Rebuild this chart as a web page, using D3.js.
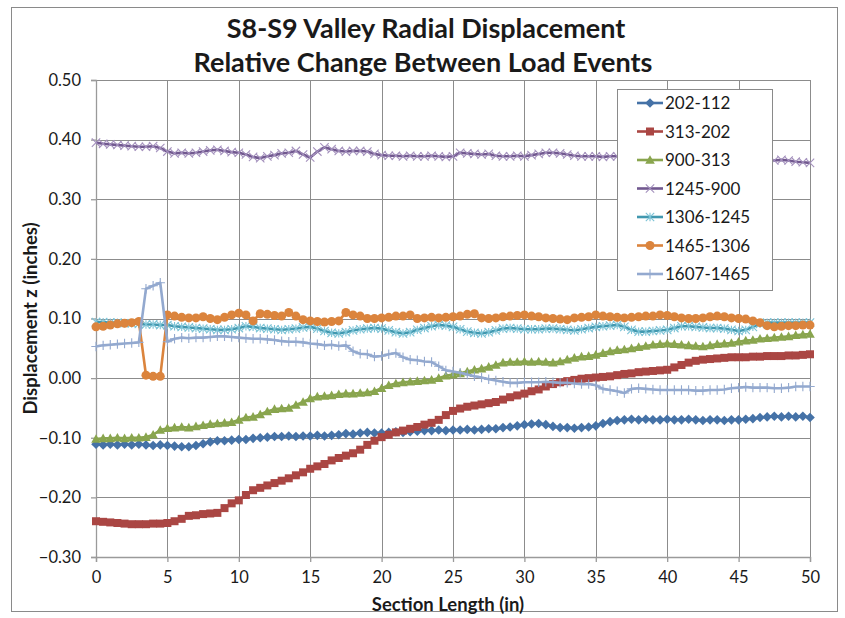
<!DOCTYPE html>
<html>
<head>
<meta charset="utf-8">
<script src="https://cdn.jsdelivr.net/npm/d3@7"></script>
<style>
    body { margin: 0; background: #fff; }
    text { font-family: Lato, "Open Sans", sans-serif; fill: #1a1a1a; }
</style>
</head>
<body>
<div class="chart"></div>
<script>
// readings every 0.5 in along the section, 0 .. 50
const seriesNames = ['202-112', '313-202', '900-313', '1245-900', '1306-1245', '1465-1306', '1607-1465'];

const s202_112 = [
    -0.111, -0.112, -0.111, -0.112, -0.111, -0.112, -0.111, -0.112, -0.113, -0.112, -0.113,
    -0.114, -0.115, -0.115, -0.113, -0.110, -0.107, -0.105, -0.105, -0.104, -0.103,
    -0.103, -0.101, -0.100, -0.099, -0.098, -0.098, -0.097, -0.098, -0.097, -0.097,
    -0.096, -0.097, -0.096, -0.095, -0.093, -0.094, -0.092, -0.091, -0.092, -0.092,
    -0.091, -0.090, -0.091, -0.090, -0.089, -0.088, -0.088, -0.087, -0.088, -0.087,
    -0.087, -0.086, -0.087, -0.086, -0.085, -0.085, -0.083, -0.082, -0.080, -0.078,
    -0.077, -0.076, -0.078, -0.081, -0.083, -0.083, -0.084, -0.083, -0.082, -0.080,
    -0.076, -0.073, -0.071, -0.070, -0.069, -0.070, -0.069, -0.070, -0.070, -0.069,
    -0.070, -0.070, -0.069, -0.070, -0.071, -0.070, -0.070, -0.071, -0.070, -0.070,
    -0.069, -0.068, -0.066, -0.065, -0.064, -0.065, -0.064, -0.065, -0.064, -0.066
];
const s313_202 = [
    -0.240, -0.241, -0.242, -0.243, -0.244, -0.245, -0.245, -0.245, -0.244, -0.244, -0.243,
    -0.240, -0.236, -0.231, -0.230, -0.228, -0.227, -0.226, -0.218, -0.210, -0.205,
    -0.196, -0.188, -0.184, -0.180, -0.176, -0.172, -0.168, -0.163, -0.158, -0.152,
    -0.148, -0.144, -0.138, -0.134, -0.130, -0.126, -0.120, -0.112, -0.105, -0.099,
    -0.095, -0.091, -0.088, -0.085, -0.082, -0.078, -0.075, -0.070, -0.062, -0.055,
    -0.051, -0.048, -0.046, -0.044, -0.042, -0.040, -0.036, -0.032, -0.029, -0.026,
    -0.022, -0.019, -0.014, -0.010, -0.007, -0.005, -0.003, -0.001, 0.000, 0.001,
    0.002, 0.003, 0.005, 0.007, 0.008, 0.010, 0.011, 0.012, 0.013, 0.014,
    0.018, 0.022, 0.026, 0.029, 0.031, 0.032, 0.033, 0.034, 0.035, 0.035,
    0.035, 0.036, 0.036, 0.037, 0.037, 0.037, 0.038, 0.038, 0.039, 0.040
];
const s900_313 = [
    -0.102, -0.101, -0.101, -0.100, -0.101, -0.100, -0.100, -0.099, -0.095, -0.087, -0.084,
    -0.083, -0.082, -0.083, -0.081, -0.079, -0.077, -0.076, -0.075, -0.074, -0.070,
    -0.066, -0.065, -0.061, -0.056, -0.052, -0.051, -0.050, -0.045, -0.040, -0.034,
    -0.031, -0.030, -0.029, -0.027, -0.026, -0.026, -0.025, -0.024, -0.022, -0.017,
    -0.012, -0.009, -0.007, -0.006, -0.005, -0.004, -0.003, 0.000, 0.004, 0.006,
    0.008, 0.011, 0.014, 0.016, 0.019, 0.022, 0.026, 0.027, 0.027, 0.028,
    0.027, 0.028, 0.027, 0.026, 0.028, 0.031, 0.034, 0.036, 0.037, 0.039,
    0.042, 0.045, 0.047, 0.048, 0.050, 0.052, 0.054, 0.056, 0.057, 0.058,
    0.057, 0.056, 0.055, 0.054, 0.053, 0.055, 0.057, 0.058, 0.059, 0.061,
    0.063, 0.064, 0.066, 0.067, 0.068, 0.069, 0.070, 0.072, 0.073, 0.074
];
const s1245_900 = [
    0.395, 0.393, 0.392, 0.391, 0.390, 0.389, 0.388, 0.388, 0.389, 0.386, 0.380,
    0.377, 0.378, 0.377, 0.378, 0.380, 0.382, 0.383, 0.381, 0.379, 0.378,
    0.375, 0.371, 0.369, 0.372, 0.374, 0.377, 0.378, 0.381, 0.375, 0.370,
    0.380, 0.387, 0.384, 0.381, 0.380, 0.381, 0.381, 0.380, 0.376, 0.374,
    0.373, 0.373, 0.372, 0.373, 0.372, 0.372, 0.373, 0.372, 0.371, 0.372,
    0.378, 0.377, 0.376, 0.375, 0.376, 0.373, 0.372, 0.372, 0.373, 0.372,
    0.374, 0.376, 0.378, 0.378, 0.377, 0.375, 0.373, 0.372, 0.372, 0.372,
    0.371, 0.372, 0.372, 0.371, 0.372, 0.372, 0.373, 0.372, 0.371, 0.372,
    0.372, 0.371, 0.370, 0.370, 0.370, 0.369, 0.369, 0.368, 0.368, 0.369,
    0.369, 0.368, 0.367, 0.366, 0.365, 0.366, 0.365, 0.363, 0.362, 0.361
];
const s1306_1245 = [
    0.094, 0.094, 0.093, 0.093, 0.092, 0.092, 0.091, 0.090, 0.090, 0.089, 0.089,
    0.087, 0.086, 0.085, 0.084, 0.083, 0.082, 0.081, 0.081, 0.082, 0.084,
    0.087, 0.086, 0.084, 0.083, 0.082, 0.081, 0.082, 0.083, 0.085, 0.086,
    0.083, 0.079, 0.076, 0.075, 0.077, 0.080, 0.082, 0.083, 0.084, 0.083,
    0.080, 0.077, 0.075, 0.077, 0.081, 0.084, 0.087, 0.089, 0.088, 0.086,
    0.082, 0.078, 0.076, 0.075, 0.077, 0.080, 0.083, 0.084, 0.083, 0.082,
    0.082, 0.082, 0.083, 0.083, 0.082, 0.081, 0.080, 0.082, 0.084, 0.086,
    0.087, 0.088, 0.089, 0.086, 0.081, 0.078, 0.078, 0.079, 0.080, 0.081,
    0.084, 0.087, 0.087, 0.086, 0.085, 0.084, 0.084, 0.083, 0.081, 0.079,
    0.081, 0.086, 0.091, 0.093, 0.093, 0.093, 0.093, 0.093, 0.093, 0.093
];
const s1465_1306 = [
    0.086, 0.087, 0.089, 0.091, 0.092, 0.093, 0.095, 0.005, 0.003, 0.003, 0.106,
    0.104, 0.102, 0.101, 0.101, 0.103, 0.100, 0.098, 0.102, 0.106, 0.109,
    0.106, 0.096, 0.108, 0.107, 0.105, 0.104, 0.110, 0.104, 0.098, 0.096,
    0.095, 0.094, 0.095, 0.096, 0.110, 0.106, 0.104, 0.100, 0.100, 0.101,
    0.102, 0.104, 0.104, 0.106, 0.100, 0.101, 0.102, 0.101, 0.102, 0.103,
    0.104, 0.107, 0.108, 0.101, 0.100, 0.101, 0.103, 0.104, 0.105, 0.106,
    0.104, 0.103, 0.101, 0.100, 0.099, 0.098, 0.101, 0.102, 0.103, 0.106,
    0.104, 0.103, 0.102, 0.101, 0.102, 0.103, 0.104, 0.104, 0.106, 0.105,
    0.103, 0.101, 0.100, 0.100, 0.101, 0.103, 0.104, 0.103, 0.101, 0.100,
    0.099, 0.096, 0.093, 0.088, 0.086, 0.087, 0.088, 0.088, 0.089, 0.089
];
const s1607_1465 = [
    0.053, 0.055, 0.056, 0.057, 0.058, 0.059, 0.060, 0.150, 0.155, 0.160, 0.061,
    0.066, 0.068, 0.067, 0.068, 0.068, 0.069, 0.070, 0.070, 0.069, 0.068,
    0.067, 0.066, 0.066, 0.065, 0.064, 0.062, 0.061, 0.061, 0.060, 0.058,
    0.057, 0.055, 0.056, 0.054, 0.055, 0.045, 0.041, 0.040, 0.036, 0.037,
    0.040, 0.042, 0.035, 0.031, 0.030, 0.028, 0.027, 0.020, 0.013, 0.011,
    0.009, 0.006, 0.003, 0.001, -0.002, -0.004, -0.006, -0.008, -0.008, -0.007,
    -0.007, -0.007, -0.006, -0.007, -0.008, -0.008, -0.009, -0.010, -0.010, -0.012,
    -0.018, -0.020, -0.022, -0.025, -0.018, -0.017, -0.018, -0.019, -0.020, -0.020,
    -0.020, -0.020, -0.020, -0.021, -0.021, -0.020, -0.020, -0.019, -0.017, -0.016,
    -0.015, -0.016, -0.016, -0.016, -0.017, -0.017, -0.016, -0.014, -0.014, -0.014
];

const xTicks = [0, 5, 10, 15, 20, 25, 30, 35, 40, 45, 50];
const yTicks = [-0.3, -0.2, -0.1, 0, 0.1, 0.2, 0.3, 0.4, 0.5];
const stepIn = 0.5;

const seriesValues = [s202_112, s313_202, s900_313, s1245_900, s1306_1245, s1465_1306, s1607_1465];
const lineColors = ['#4572A7', '#AA4643', '#89A54E', '#71588F', '#4198AF', '#DB843D', '#93A9CF'];
const markerColors = ['#4572A7', '#AA4643', '#89A54E', '#A491BD', '#7CC3D6', '#DB843D', '#93A9CF'];
const markerKinds = ['diamond', 'square', 'triangle', 'x', 'asterisk', 'circle', 'plus'];

const series = seriesNames.map((name, i) => ({
    name: name,
    color: lineColors[i],
    markerColor: markerColors[i],
    kind: markerKinds[i],
    values: seriesValues[i].map((v, j) => ({ x: j * stepIn, y: v }))
}));

// margin convention
const margin = { top: 80, right: 35, bottom: 61, left: 96 },
    width = 845 - margin.left - margin.right,
    height = 618 - margin.top - margin.bottom;

let svg = d3.select('.chart')
    .append('svg')
    .attr('width', 845)
    .attr('height', 618);

// outer chart border
svg.append('rect')
    .attr('x', 11.5).attr('y', 7.5)
    .attr('width', 826).attr('height', 604)
    .attr('fill', '#fff')
    .attr('stroke', '#8a8a8a');

svg.append('text')
    .attr('x', 426).attr('y', 38)
    .attr('text-anchor', 'middle')
    .style('font-size', '27px').style('font-weight', 'bold')
    .text('S8-S9 Valley Radial Displacement');

svg.append('text')
    .attr('x', 423).attr('y', 72)
    .attr('text-anchor', 'middle')
    .style('font-size', '27px').style('font-weight', 'bold')
    .text('Relative Change Between Load Events');

let group = svg.append('g')
    .attr('transform', 'translate(' + margin.left + ',' + margin.top + ')');

let xScale = d3.scaleLinear().domain([0, 50]).range([0, width]);
let yScale = d3.scaleLinear().domain([-0.3, 0.5]).range([height, 0]);

// grid
group.append('g').selectAll('line.h')
    .data(yTicks)
    .join('line')
    .attr('x1', 0).attr('x2', width)
    .attr('y1', d => Math.round(yScale(d)) + 0.5)
    .attr('y2', d => Math.round(yScale(d)) + 0.5)
    .attr('stroke', '#8c8c8c');

group.append('g').selectAll('line.v')
    .data(xTicks.slice(1))
    .join('line')
    .attr('y1', 0).attr('y2', height)
    .attr('x1', d => Math.round(xScale(d)) + 0.5)
    .attr('x2', d => Math.round(xScale(d)) + 0.5)
    .attr('stroke', '#8c8c8c');

// axes
const xAxis = d3.axisBottom(xScale).tickValues(xTicks).tickSize(5).tickPadding(9).tickFormat(d3.format('d'));
const yAxis = d3.axisLeft(yScale).tickValues(yTicks).tickSize(5).tickPadding(10).tickFormat(d3.format('.2f'));

let xDisplay = group.append('g')
    .attr('class', 'axis x-axis')
    .attr('transform', `translate(0, ${height})`)
    .call(xAxis);

let yDisplay = group.append('g')
    .attr('class', 'axis y-axis')
    .call(yAxis);

group.selectAll('.axis path, .axis line').attr('stroke', '#9a9a9a').attr('stroke-width', 1.3);
group.selectAll('.axis text')
    .style('font-size', '16.5px')
    .style('font-family', 'Lato, sans-serif')
    .attr('fill', '#1a1a1a');

svg.append('text')
    .attr('x', margin.left + width / 2 - 5).attr('y', 611)
    .attr('text-anchor', 'middle')
    .style('font-size', '18.5px').style('font-weight', 'bold')
    .text('Section Length (in)');

svg.append('text')
    .attr('transform', `translate(37, ${margin.top + height / 2}) rotate(-90)`)
    .attr('text-anchor', 'middle')
    .style('font-size', '18.5px').style('font-weight', 'bold')
    .text('Displacement z (inches)');

// marker shapes, r is the half width
function markerPath(kind, r) {
    if (kind === 'diamond') return `M0,${-r}L${r},0L0,${r}L${-r},0Z`;
    if (kind === 'square') return `M${-r},${-r}H${r}V${r}H${-r}Z`;
    if (kind === 'triangle') return `M0,${-r}L${r},${r * 0.8}L${-r},${r * 0.8}Z`;
    if (kind === 'circle') return d3.symbol(d3.symbolCircle, Math.PI * r * r)();
    if (kind === 'x') return `M${-r},${-r}L${r},${r}M${-r},${r}L${r},${-r}`;
    if (kind === 'plus') return `M${-r},0H${r}M0,${-r}V${r}`;
    // asterisk
    return `M${-r},${-r}L${r},${r}M${-r},${r}L${r},${-r}M0,${-r}V${r}`;
}
const markerSize = { diamond: 4.8, square: 4, triangle: 4.8, circle: 4.5, x: 4.2, asterisk: 4.2, plus: 4.7 };
const filled = kind => ['diamond', 'square', 'triangle', 'circle'].includes(kind);

let line = d3.line()
    .x(d => xScale(d.x))
    .y(d => yScale(d.y));

const seriesGroups = group.selectAll('.series')
    .data(series)
    .join('g')
    .attr('class', 'series');

seriesGroups.append('path')
    .attr('d', d => line(d.values))
    .attr('fill', 'none')
    .attr('stroke', d => d.color)
    .attr('stroke-width', 2.6)
    .attr('stroke-linejoin', 'round');

seriesGroups.each(function(s) {
    d3.select(this).selectAll('.marker')
        .data(s.values)
        .join('path')
        .attr('class', 'marker')
        .attr('transform', d => `translate(${xScale(d.x)},${yScale(d.y)})`)
        .attr('d', markerPath(s.kind, markerSize[s.kind]))
        .attr('fill', filled(s.kind) ? s.markerColor : 'none')
        .attr('stroke', s.markerColor)
        .attr('stroke-width', filled(s.kind) ? 0 : 1.1);
});

// legend
const legend = svg.append('g').attr('transform', 'translate(617, 89)');
legend.append('rect')
    .attr('x', 0.5).attr('y', 0.5)
    .attr('width', 155).attr('height', 201)
    .attr('fill', '#fff')
    .attr('stroke', '#8a8a8a');

const items = legend.selectAll('.item')
    .data(series)
    .join('g')
    .attr('class', 'item')
    .attr('transform', (d, i) => `translate(0, ${14 + i * 28.5})`);

items.append('line')
    .attr('x1', 20).attr('x2', 46)
    .attr('stroke', d => d.color)
    .attr('stroke-width', 2.6);

items.append('path')
    .attr('transform', 'translate(33, 0)')
    .attr('d', d => markerPath(d.kind, markerSize[d.kind]))
    .attr('fill', d => filled(d.kind) ? d.markerColor : 'none')
    .attr('stroke', d => d.markerColor)
    .attr('stroke-width', d => filled(d.kind) ? 0 : 1.1);

items.append('text')
    .attr('x', 48).attr('y', 6)
    .style('font-size', '17px')
    .text(d => d.name);
</script>
</body>
</html>
